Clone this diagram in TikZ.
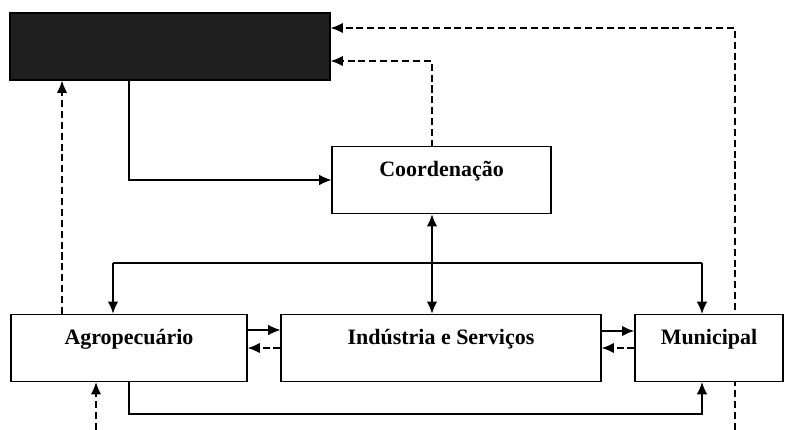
\documentclass[tikz,border=0pt]{standalone}
\usepackage{fontspec}
\setmainfont{Liberation Serif}
\usepackage{tikz}
\usetikzlibrary{arrows.meta, positioning}
\tikzstyle{block} = [draw=black, fill=white, line width=0.6pt, minimum height=1.34cm, inner sep=0,
                     text height=1.6ex, text depth=2.4ex, font=\fontsize{12.5}{14}\selectfont\bfseries]
\tikzstyle{dark} = [draw=black, fill=black!88, line width=0.6pt, minimum width=6.4cm, minimum height=1.34cm]
\tikzstyle{flow} = [line width=0.7pt, -{Latex[length=7pt,width=6pt]}]
\tikzstyle{heavy} = [line width=1.5pt, -{Latex[length=7pt,width=6pt]}]
\tikzstyle{back} = [line width=1.1pt, dash pattern=on 4pt off 2.2pt, -{Latex[length=7pt,width=6pt]}]

\begin{document}
\begin{tikzpicture}
				\useasboundingbox (0, 0) rectangle (15.84, -8.6);

				\node (Top) [dark] at (3.4, -0.93) {};

				% feedback from below, behind Municipal
				\coordinate (FarIn) at (14.7, -8.6);
				\coordinate (FarCorner) at (14.7, -0.56);
				\draw [back] (FarIn) -- (FarCorner) -- (Top.east |- FarCorner);

				\node (Coord) [block, minimum width=4.38cm] at (8.83, -3.6) {Coordenação};
				\node (Agro) [block, minimum width=4.72cm] at (2.58, -6.96) {Agropecuário};
				\node (Ind) [block, minimum width=6.4cm] at (8.82, -6.96) {Indústria e Serviços};
				\node (Mun) [block, minimum width=2.96cm] at (14.18, -6.96) {Municipal};

				% top box to Coordenação
				\coordinate (TopOut) at (2.58, -1.6);
				\coordinate (TopTurn) at (2.58, -3.6);
				\draw [flow] (TopOut) -- (TopTurn) -- (Coord.west);

				% Coordenação back to top box
				\coordinate (CoordUp) at (8.64, -2.94);
				\coordinate (CoordTurn) at (8.64, -1.22);
				\draw [back] (CoordUp) -- (CoordTurn) -- (Top.east |- CoordTurn);

				% Agropecuário back to top box
				\coordinate (AgroUp) at (1.24, -6.28);
				\draw [back] (AgroUp) -- (Top.south -| AgroUp);

				% Coordenação to the sectors
				\coordinate (CoordDown) at (8.64, -2.94);
				\coordinate (IndTop) at (8.64, -6.28);
				\draw [line width=1.5pt, {Latex[length=7pt,width=6pt]}-{Latex[length=7pt,width=6pt]}] (Coord.south -| CoordDown) -- (IndTop);
				\coordinate (BusLeft) at (2.26, -5.26);
				\coordinate (BusRight) at (14.04, -5.26);
				\draw [line width=0.7pt] (BusLeft) -- (BusRight);
				\draw [heavy] (BusLeft) -- (Agro.north -| BusLeft);
				\draw [flow] (BusRight) -- (Mun.north -| BusRight);

				% between the sectors
				\coordinate (AgroIndTop) at (0, -6.6);
				\draw [flow] (Agro.east |- AgroIndTop) -- (Ind.west |- AgroIndTop);
				\draw [back] (Ind.west) -- (Agro.east);
				\coordinate (IndMunTop) at (0, -6.62);
				\draw [heavy] (Ind.east |- IndMunTop) -- (Mun.west |- IndMunTop);
				\draw [back] (Mun.west) -- (Ind.east);

				% Agropecuário to Municipal below
				\coordinate (LowLeft) at (2.58, -8.28);
				\coordinate (LowRight) at (14.04, -8.28);
				\draw [flow] (Agro.south) -- (LowLeft) -- (LowRight) -- (Mun.south -| LowRight);

				% feedback from below into Agropecuário
				\coordinate (AgroIn) at (1.92, -8.6);
				\draw [back] (AgroIn) -- (Agro.south -| AgroIn);
\end{tikzpicture}
\end{document}
